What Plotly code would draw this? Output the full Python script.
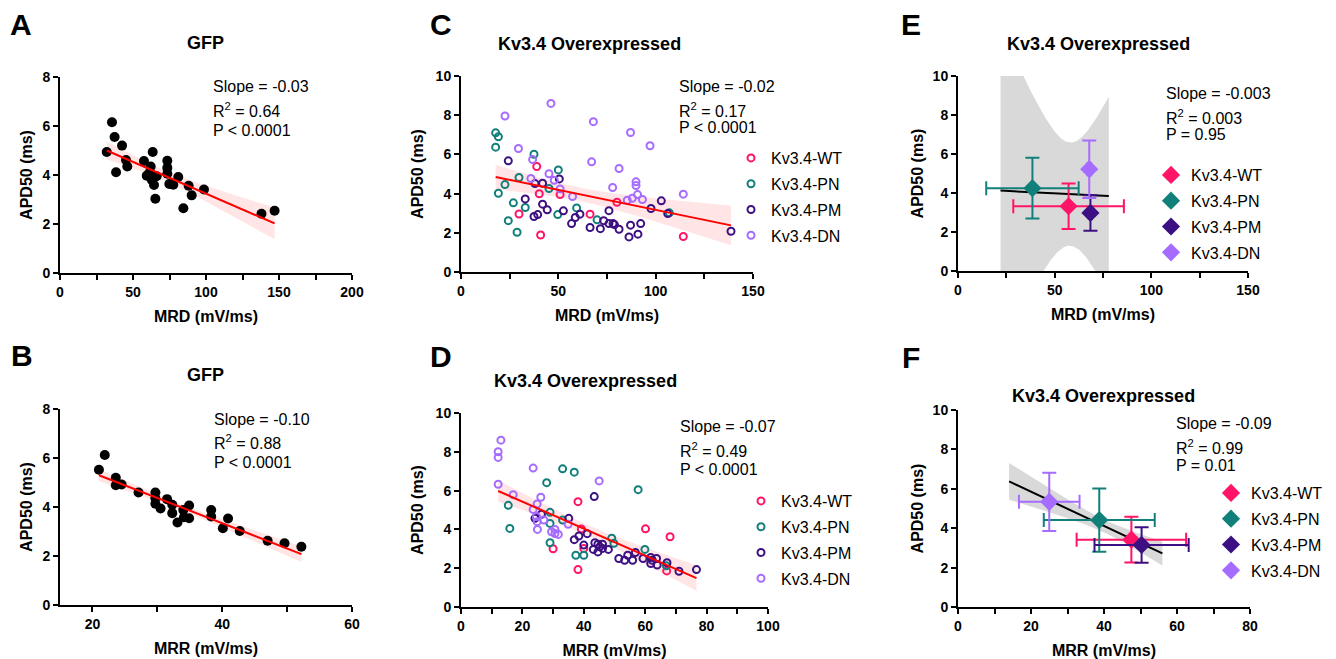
import numpy as np
import plotly.graph_objects as go

# the page puts the figure 8px in from the top-left corner
OFF = 8
W, H = 1336 - OFF, 659 - OFF
FONT = "Liberation Sans, Arial, sans-serif"

GROUPS = ["Kv3.4-WT", "Kv3.4-PN", "Kv3.4-PM", "Kv3.4-DN"]
COLORS = ["#FF1467", "#12807A", "#3C1082", "#A66BFF"]

# --- A: GFP, MRD vs APD50 ---
a_mrd = [32.0, 35.6, 37.4, 38.4, 42.5, 45.2, 46.1, 57.5, 59.4, 61.2, 62.1, 63.5, 62.8,
         64.4, 65.3, 66.2, 73.5, 73.5, 73.5, 74.9, 77.6, 81.0, 84.5, 88.1, 90.2, 98.6,
         138.0, 147.0]
a_apd = [4.94, 6.15, 5.55, 4.11, 5.20, 4.61, 4.35, 4.57, 3.97, 4.08, 4.35, 4.94, 3.81,
         3.59, 3.03, 3.95, 4.58, 4.29, 4.05, 3.63, 3.60, 3.92, 2.64, 3.56, 3.17, 3.41,
         2.42, 2.54]

# --- B: GFP, MRR vs APD50 ---
b_mrr = [21.0, 21.9, 23.6, 23.6, 24.5, 27.1, 29.7, 29.7, 29.7, 30.5, 31.5, 32.3, 32.3,
         33.1, 34.0, 34.1, 34.9, 34.9, 38.3, 38.3, 40.1, 40.9, 42.7, 47.0, 49.6, 52.2]
b_apd = [5.52, 6.12, 5.19, 4.89, 4.92, 4.59, 4.59, 4.36, 4.13, 3.94, 4.32, 4.09, 3.75,
         3.37, 3.88, 3.58, 4.06, 3.54, 3.88, 3.61, 3.13, 3.53, 3.02, 2.62, 2.52, 2.38]

# --- C: Kv3.4 overexpressed, MRD vs APD50 ---
c_wt_mrd = [38.9, 40.2, 29.8, 40.9, 50.9, 66.3, 80.1, 114.2]
c_wt_apd = [5.38, 3.99, 2.96, 1.89, 3.95, 2.95, 3.56, 1.81]
c_pn_mrd = [17.8, 19.2, 17.8, 19.2, 22.6, 24.3, 26.9, 29.8, 28.8, 33.0, 37.5, 45.2, 50.0,
            49.7, 59.4, 69.9, 107.0]
c_pn_apd = [7.10, 6.90, 6.37, 4.02, 4.46, 2.62, 3.53, 4.82, 2.03, 3.29, 6.01, 4.26, 5.21,
            2.93, 3.27, 2.66, 3.02]
c_pm_mrd = [24.3, 33.0, 38.0, 37.5, 39.4, 41.9, 41.9, 44.3, 50.5, 52.6, 56.8, 58.7, 61.1,
            66.3, 71.6, 73.3, 76.0, 76.0, 78.1, 78.8, 81.2, 86.3, 87.1, 90.9, 92.3, 97.6,
            102.9, 106.2, 138.7]
c_pm_apd = [5.67, 3.73, 4.51, 2.83, 2.93, 4.53, 3.46, 3.17, 4.75, 3.12, 2.47, 2.78, 2.95,
            2.27, 2.21, 2.62, 3.13, 2.47, 2.47, 2.42, 2.18, 1.79, 2.39, 1.93, 2.47, 3.24,
            3.63, 2.98, 2.08]
c_dn_mrd = [22.6, 46.2, 29.5, 36.8, 35.9, 45.2, 47.9, 50.9, 57.3, 68.0, 67.1, 81.2, 77.9,
            87.1, 97.1, 89.9, 89.9, 85.4, 88.0, 90.7, 93.2, 114.2]
c_dn_apd = [7.96, 8.60, 6.30, 5.74, 4.77, 5.01, 4.68, 4.24, 3.85, 7.67, 5.62, 5.28, 4.31,
            7.12, 6.44, 4.60, 4.41, 3.66, 3.76, 3.95, 3.70, 3.97]

# --- D: Kv3.4 overexpressed, MRR vs APD50 ---
d_wt_mrr = [38.1, 39.2, 30.0, 40.0, 38.1, 60.1, 68.1, 67.0]
d_wt_apd = [5.43, 4.02, 3.00, 3.02, 1.93, 4.03, 3.62, 1.86]
d_pn_mrr = [15.4, 15.9, 27.9, 29.0, 29.0, 29.0, 33.1, 33.1, 36.9, 37.4, 40.0, 49.1, 49.8,
            57.7, 59.9, 66.9]
d_pn_apd = [5.24, 4.05, 6.41, 4.88, 4.31, 3.31, 7.12, 4.48, 6.95, 2.67, 2.67, 3.55, 3.28,
            6.05, 2.97, 2.12]
d_pm_mrr = [24.1, 26.2, 35.1, 36.9, 38.4, 41.1, 40.0, 43.4, 43.6, 43.1, 44.6, 44.6, 45.2,
            46.1, 46.1, 48.0, 51.4, 53.3, 54.3, 55.9, 56.8, 59.3, 61.8, 61.8, 62.3, 63.7,
            63.9, 67.1, 71.0, 76.7]
d_pm_apd = [4.57, 4.78, 4.57, 3.47, 3.66, 3.78, 3.19, 5.69, 3.31, 2.97, 3.24, 2.84, 3.10,
            3.24, 3.02, 2.97, 2.50, 2.41, 2.67, 2.41, 2.81, 2.50, 2.55, 2.24, 2.41, 2.50,
            2.16, 2.28, 1.84, 1.93]
d_dn_mrr = [13.0, 12.1, 12.1, 12.1, 17.0, 23.5, 23.5, 24.8, 26.0, 24.6, 24.9, 24.8, 27.0,
            29.5, 30.6, 30.6, 31.7, 34.9, 45.0]
d_dn_apd = [8.60, 8.00, 7.71, 6.33, 5.79, 7.16, 5.03, 5.31, 5.66, 4.66, 4.00, 4.40, 4.48,
            3.88, 4.00, 3.79, 3.74, 4.26, 6.50]

# --- E: group means +/- SD, MRD vs APD50 (WT, PN, PM, DN) ---
e_mrd_mean = [57.2, 38.5, 68.5, 67.9]
e_mrd_sd = [28.6, 23.9, 0.8, 1.0]
e_apd_mean = [3.32, 4.25, 2.98, 5.22]
e_apd_sd = [1.17, 1.56, 0.91, 1.47]
e_fit_range = [22, 78]

# --- F: group means +/- SD, MRR vs APD50 (WT, PN, PM, DN) ---
f_mrr_mean = [47.5, 38.7, 50.3, 25.0]
f_mrr_sd = [15.0, 15.2, 12.9, 8.3]
f_apd_mean = [3.42, 4.41, 3.15, 5.34]
f_apd_sd = [1.16, 1.60, 0.90, 1.48]
f_fit_range = [14, 56]

stats = {
    "A": ["Slope = -0.03", "R<sup>2</sup> = 0.64", "P < 0.0001"],
    "B": ["Slope = -0.10", "R<sup>2</sup> = 0.88", "P < 0.0001"],
    "C": ["Slope = -0.02", "R<sup>2</sup> = 0.17", "P < 0.0001"],
    "D": ["Slope = -0.07", "R<sup>2</sup> = 0.49", "P < 0.0001"],
    "E": ["Slope = -0.003", "R<sup>2</sup> = 0.003", "P = 0.95"],
    "F": ["Slope = -0.09", "R<sup>2</sup> = 0.99", "P = 0.01"],
}


def t975(df):
    # two-sided 95% t quantile
    if df == 2:
        return 0.95 / np.sqrt(2 * 0.975 * 0.025)
    z = 1.959964
    return (z + (z**3 + z) / (4 * df) + (5 * z**5 + 16 * z**3 + 3 * z) / (96 * df**2)
            + (3 * z**7 + 19 * z**5 + 17 * z**3 - 15 * z) / (384 * df**3))


def fit_band(x, y, lo=None, hi=None, n=150):
    x = np.asarray(x, float)
    y = np.asarray(y, float)
    slope, icpt = np.polyfit(x, y, 1)
    lo = x.min() if lo is None else lo
    hi = x.max() if hi is None else hi
    grid = np.linspace(lo, hi, n)
    fit = icpt + slope * grid
    resid = y - (icpt + slope * x)
    df = len(x) - 2
    s = np.sqrt((resid**2).sum() / df)
    sxx = ((x - x.mean())**2).sum()
    half = t975(df) * s * np.sqrt(1 / len(x) + (grid - x.mean())**2 / sxx)
    return grid, fit, fit - half, fit + half


# positions below are in page pixels, converted to paper fractions
def px(x):
    return (x - OFF) / W


def py(y):
    return 1 - (y - OFF) / H


fig = go.Figure()

# panel boxes in pixels: (left, right, top, bottom)
panels = {
    "A": dict(box=(60, 352, 77, 273), xr=[0, 200], dt=50, mdt=25, yr=[0, 8], xt="MRD (mV/ms)", ys=6),
    "B": dict(box=(60, 352, 409, 605), xr=[15, 60], dt=20, mdt=10, yr=[0, 8], xt="MRR (mV/ms)", ys=6),
    "C": dict(box=(461, 753, 76, 272), xr=[0, 150], dt=50, mdt=25, yr=[0, 10], xt="MRD (mV/ms)", ys=8),
    "D": dict(box=(461, 768, 413, 607), xr=[0, 100], dt=20, mdt=10, yr=[0, 10], xt="MRR (mV/ms)", ys=8),
    "E": dict(box=(958, 1248, 76, 271), xr=[0, 150], dt=50, mdt=25, yr=[0, 10], xt="MRD (mV/ms)", ys=5),
    "F": dict(box=(958, 1250, 410, 607), xr=[0, 80], dt=20, mdt=10, yr=[0, 10], xt="MRR (mV/ms)", ys=5),
}

tick_font = dict(family=FONT, size=14, color="black", weight="bold")
title_font = dict(family=FONT, size=16, color="black", weight="bold")
axis_common = dict(showline=True, linecolor="black", linewidth=2, ticks="outside",
                   ticklen=5, tickwidth=2, tickcolor="black", showgrid=False,
                   zeroline=False, tickfont=tick_font, automargin=False)

layout_axes = {}
ax_ids = {}
for i, (key, p) in enumerate(panels.items(), start=1):
    sfx = "" if i == 1 else str(i)
    ax_ids[key] = ("x" + sfx, "y" + sfx)
    l, r, t, b = p["box"]
    layout_axes["xaxis" + sfx] = dict(
        axis_common, domain=[px(l), px(r)], range=p["xr"], dtick=p["dt"],
        tick0=0, anchor="y" + sfx,
        minor=dict(ticks="outside", dtick=p["mdt"], tick0=0, ticklen=5, tickwidth=2,
                   tickcolor="black", showgrid=False),
        title=dict(text=p["xt"], font=title_font, standoff=12))
    layout_axes["yaxis" + sfx] = dict(
        axis_common, domain=[py(b), py(t)], range=p["yr"], dtick=2, anchor="x" + sfx,
        title=dict(text="APD50 (ms)", font=title_font, standoff=p["ys"]))


def add_band(key, grid, lo, hi, fill):
    xa, ya = ax_ids[key]
    fig.add_trace(go.Scatter(x=np.concatenate([grid, grid[::-1]]),
                             y=np.concatenate([hi, lo[::-1]]), fill="toself",
                             fillcolor=fill, line=dict(width=0), mode="lines",
                             hoverinfo="skip", showlegend=False, xaxis=xa, yaxis=ya))


def add_line(key, grid, fit, color):
    xa, ya = ax_ids[key]
    fig.add_trace(go.Scatter(x=grid, y=fit, mode="lines", line=dict(color=color, width=2),
                             showlegend=False, xaxis=xa, yaxis=ya))


PINK_BAND = "rgba(255,0,0,0.10)"
GRAY_BAND = "rgba(170,170,170,0.45)"

# A and B
for key, xs, ys in [("A", a_mrd, a_apd), ("B", b_mrr, b_apd)]:
    g, f, lo, hi = fit_band(xs, ys)
    add_band(key, g, lo, hi, PINK_BAND)
    xa, ya = ax_ids[key]
    fig.add_trace(go.Scatter(x=xs, y=ys, mode="markers",
                             marker=dict(color="black", size=10), showlegend=False,
                             xaxis=xa, yaxis=ya))
    add_line(key, g, f, "#FF0000")

# C and D
c_sets = [(c_wt_mrd, c_wt_apd), (c_pn_mrd, c_pn_apd), (c_pm_mrd, c_pm_apd), (c_dn_mrd, c_dn_apd)]
d_sets = [(d_wt_mrr, d_wt_apd), (d_pn_mrr, d_pn_apd), (d_pm_mrr, d_pm_apd), (d_dn_mrr, d_dn_apd)]
for key, sets, leg in [("C", c_sets, "legend"), ("D", d_sets, "legend2")]:
    all_x = np.concatenate([s[0] for s in sets])
    all_y = np.concatenate([s[1] for s in sets])
    g, f, lo, hi = fit_band(all_x, all_y)
    add_band(key, g, lo, hi, PINK_BAND)
    xa, ya = ax_ids[key]
    for name, color, (xs, ys) in zip(GROUPS, COLORS, sets):
        fig.add_trace(go.Scatter(
            x=xs, y=ys, mode="markers", name=name, legend=leg, legendgroup=key + name,
            marker=dict(symbol="circle-open", color=color, size=7,
                        line=dict(color=color, width=2)),
            xaxis=xa, yaxis=ya))
    add_line(key, g, f, "#FF0000")

# E and F
for key, mx, sx, my, sy, rng, leg in [
        ("E", e_mrd_mean, e_mrd_sd, e_apd_mean, e_apd_sd, e_fit_range, "legend3"),
        ("F", f_mrr_mean, f_mrr_sd, f_apd_mean, f_apd_sd, f_fit_range, "legend4")]:
    g, f, lo, hi = fit_band(mx, my, rng[0], rng[1], n=200)
    add_band(key, g, lo, hi, GRAY_BAND)
    xa, ya = ax_ids[key]
    add_line(key, g, f, "black")
    for i, (name, color) in enumerate(zip(GROUPS, COLORS)):
        fig.add_trace(go.Scatter(
            x=[mx[i]], y=[my[i]], mode="markers", name=name, legend=leg,
            legendgroup=key + name,
            marker=dict(symbol="diamond", color=color, size=14),
            error_x=dict(type="data", array=[sx[i]], color=color, thickness=2, width=7),
            error_y=dict(type="data", array=[sy[i]], color=color, thickness=2, width=7),
            xaxis=xa, yaxis=ya))

annotations = []


def text(x, y, s, size=16, bold=False, anchor="left"):
    annotations.append(dict(x=px(x), y=py(y), xref="paper", yref="paper", text=s,
                            showarrow=False, xanchor=anchor, yanchor="middle",
                            font=dict(family=FONT, size=size, color="black",
                                      weight="bold" if bold else "normal")))


# panel letters
for letter, x, y in [("A", 21, 25), ("B", 22, 355), ("C", 441, 25), ("D", 441, 356),
                     ("E", 911, 25), ("F", 911, 357)]:
    text(x, y, letter, size=30, bold=True, anchor="center")

# panel titles
for s, x, y in [("GFP", 205, 43), ("GFP", 205, 375), ("Kv3.4 Overexpressed", 589, 44),
                ("Kv3.4 Overexpressed", 585, 381), ("Kv3.4 Overexpressed", 1098, 44),
                ("Kv3.4 Overexpressed", 1103, 396)]:
    text(x, y, s, size=18, bold=True, anchor="center")

# regression stats
stat_pos = {"A": (211, [87, 110, 130]), "B": (212, [419, 442, 462]),
            "C": (677, [86, 110, 128]), "D": (678, [427, 450, 469]),
            "E": (1164, [93, 117, 135]), "F": (1174, [423, 447, 465])}
for key, (x, ys) in stat_pos.items():
    for s, y in zip(stats[key], ys):
        text(x, y, s)

legend_common = dict(bgcolor="rgba(0,0,0,0)", borderwidth=0, tracegroupgap=2,
                     font=dict(family=FONT, size=16, color="black"),
                     xanchor="left", yanchor="top", itemclick=False)

fig.update_layout(
    width=W, height=H, margin=dict(l=0, r=0, t=0, b=0),
    paper_bgcolor="white", plot_bgcolor="white",
    font=dict(family=FONT, color="black"),
    annotations=annotations,
    legend=dict(legend_common, x=px(731), y=py(141)),
    legend2=dict(legend_common, x=px(741), y=py(484)),
    legend3=dict(legend_common, x=px(1151), y=py(158)),
    legend4=dict(legend_common, x=px(1211), y=py(476)),
    **layout_axes,
)

fig.write_html("out.html")
